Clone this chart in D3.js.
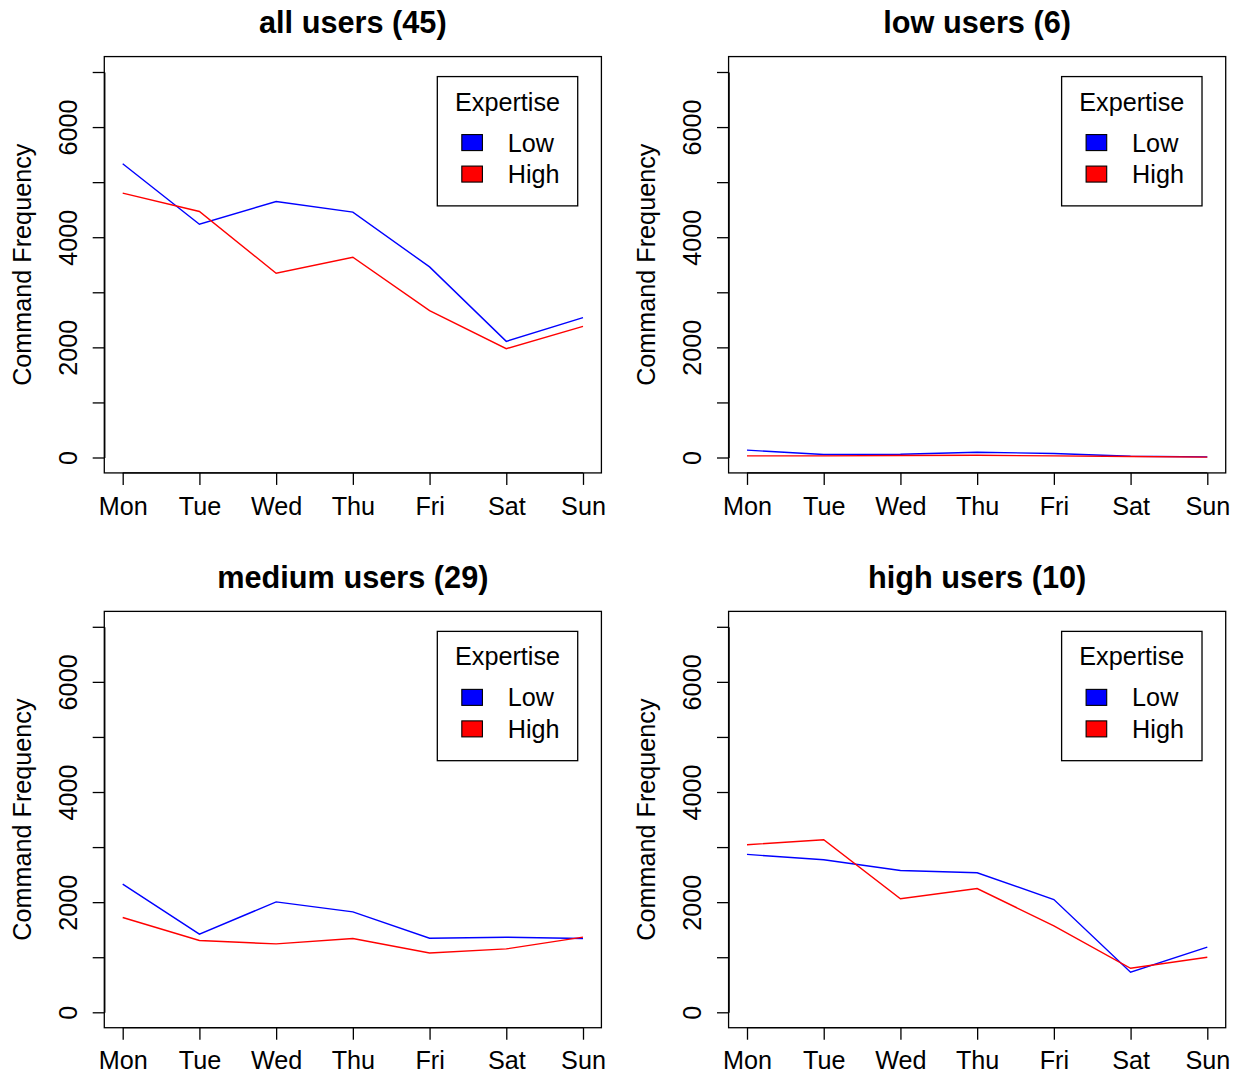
<!DOCTYPE html>
<html>
<head>
<meta charset="utf-8">
<script src="https://cdn.jsdelivr.net/npm/d3@7"></script>
<style>
  body { margin: 0; background: #fff; }
  svg { display: block; font-family: "Liberation Sans", Arial, Helvetica, sans-serif; }
</style>
</head>
<body>
<div id="chart-area"></div>
<script>
// Categories and series
var days = ["Mon", "Tue", "Wed", "Thu", "Fri", "Sat", "Sun"];
var panelTitles = ["all users (45)", "low users (6)", "medium users (29)", "high users (10)"];
var seriesNames = ["Low", "High"];
var seriesColors = ["#0000ff", "#ff0000"];
var yTicks = [0, 1000, 2000, 3000, 4000, 5000, 6000, 7000];
var yTickLabels = ["0", "", "2000", "", "4000", "", "6000", ""];

var allLow = [5334, 4236, 4649, 4455, 3461, 2109, 2540];
var allHigh = [4800, 4467, 3345, 3636, 2667, 1976, 2382];
var lowLow = [133, 55, 58, 96, 73, 24, 12];
var lowHigh = [30, 30, 36, 40, 30, 18, 6];
var medLow = [2327, 1418, 2005, 1824, 1345, 1364, 1339];
var medHigh = [1721, 1303, 1242, 1339, 1078, 1151, 1364];
var highLow = [2867, 2770, 2576, 2533, 2048, 727, 1182];
var highHigh = [3042, 3133, 2061, 2248, 1570, 800, 1000];

var panelData = [[allLow, allHigh], [lowLow, lowHigh], [medLow, medHigh], [highLow, highHigh]];

var W = 1238, H = 1078;
var colStep = 624.3, rowStep = 554.8;
var fs = 25.2;  // base font size

// Scales in the coordinates of the first panel; other panels are shifted
var x = d3.scalePoint().domain(days).range([122.7, 583]);
var y = d3.scaleLinear().domain([0, 7000]).range([457.5, 72]);

// R-style 4% extension of the plot region
var xPad = (x.range()[1] - x.range()[0]) * 0.04;
var yPad = (y.range()[0] - y.range()[1]) * 0.04;
var box = {
    left: x.range()[0] - xPad,
    right: x.range()[1] + xPad,
    top: y.range()[1] - yPad,
    bottom: y.range()[0] + yPad
};

var svg = d3.select("#chart-area")
    .append("svg")
        .attr("width", W)
        .attr("height", H);

var line = d3.line()
    .x(function (d, i) { return x(days[i]); })
    .y(function (d) { return y(d); });

panelData.forEach(function (series, p) {
    var col = p % 2, row = Math.floor(p / 2);
    var g = svg.append("g")
        .attr("transform", "translate(" + (col * colStep) + "," + (row * rowStep) + ")");

    // Title
    g.append("text")
        .attr("x", (box.left + box.right) / 2)
        .attr("y", 33)
        .attr("text-anchor", "middle")
        .attr("font-size", "30.7px")
        .attr("font-weight", "bold")
        .text(panelTitles[p]);

    // Lines
    series.forEach(function (vals, s) {
        g.append("path")
            .datum(vals)
            .attr("fill", "none")
            .attr("stroke", seriesColors[s])
            .attr("stroke-width", 1.4)
            .attr("d", line);
    });

    // Box
    g.append("rect")
        .attr("x", box.left)
        .attr("y", box.top)
        .attr("width", box.right - box.left)
        .attr("height", box.bottom - box.top)
        .attr("fill", "none")
        .attr("stroke", "#000")
        .attr("stroke-width", 1.3);

    // X axis
    var xAxisGroup = g.append("g")
        .attr("transform", "translate(0," + box.bottom + ")")
        .call(d3.axisBottom(x).tickSize(12).tickSizeOuter(0).tickPadding(11.8));
    xAxisGroup.select(".domain")
        .attr("d", "M" + x.range()[0] + ",0H" + x.range()[1]);

    // Y axis
    var yAxisGroup = g.append("g")
        .attr("transform", "translate(" + box.left + ",0)")
        .call(d3.axisLeft(y)
            .tickValues(yTicks)
            .tickSize(11.6)
            .tickSizeOuter(0)
            .tickFormat(function (d, i) { return yTickLabels[i]; }));
    yAxisGroup.selectAll("text")
        .attr("transform", "rotate(-90)")
        .attr("x", 0)
        .attr("y", 76.5 - box.left)
        .attr("dy", null)
        .attr("text-anchor", "middle");

    [xAxisGroup, yAxisGroup].forEach(function (ax) {
        ax.attr("font-family", null).attr("font-size", fs + "px");
        ax.selectAll("line, path").attr("stroke", "#000").attr("stroke-width", 1.3);
        ax.selectAll("text").attr("fill", "#000");
    });

    // Y label
    g.append("text")
        .attr("transform", "translate(30.5," + ((box.top + box.bottom) / 2) + ") rotate(-90)")
        .attr("text-anchor", "middle")
        .attr("font-size", fs + "px")
        .text("Command Frequency");

    // Legend
    var lg = g.append("g")
        .attr("transform", "translate(" + (box.right - 23.7 - 140.4) + "," + (box.top + 20) + ")");
    lg.append("rect")
        .attr("width", 140.4)
        .attr("height", 129.3)
        .attr("fill", "#fff")
        .attr("stroke", "#000")
        .attr("stroke-width", 1.3);
    lg.append("text")
        .attr("x", 70.2)
        .attr("y", 34)
        .attr("text-anchor", "middle")
        .attr("font-size", fs + "px")
        .text("Expertise");
    seriesNames.forEach(function (name, s) {
        var cy = 66 + s * 31.5;
        lg.append("rect")
            .attr("x", 24.5)
            .attr("y", cy - 8)
            .attr("width", 20.6)
            .attr("height", 16)
            .attr("fill", seriesColors[s])
            .attr("stroke", "#000")
            .attr("stroke-width", 1.1);
        lg.append("text")
            .attr("x", 70.5)
            .attr("y", cy + 9)
            .attr("font-size", fs + "px")
            .text(name);
    });
});
</script>
</body>
</html>
